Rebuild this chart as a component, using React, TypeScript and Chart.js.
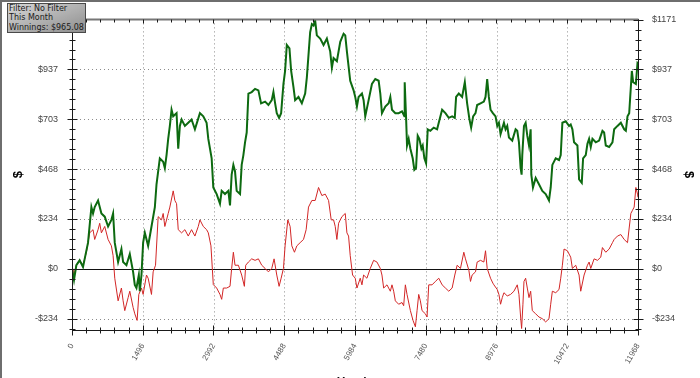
import React, { useEffect, useRef } from "react";
import { Chart, registerables } from "chart.js";

Chart.register(...registerables);

// ---- Data ----
const greenHands = [0,42,92,162,233,268,339,410,445,480,551,622,692,763,833,869,904,975,1045,1081,1151,1222,1292,1328,1363,1413,1434,1469,1504,1540,1610,1681,1752,1787,1857,1928,1963,1999,2034,2069,2105,2140,2211,2246,2281,2317,2387,2458,2528,2599,2705,2776,2846,2882,2953,2988,3059,3129,3165,3235,3306,3341,3376,3412,3447,3482,3553,3588,3624,3659,3694,3730,3800,3871,3941,3998,4083,4153,4224,4259,4295,4330,4379,4422,4471,4506,4542,4598,4634,4683,4718,4789,4860,4930,4966,5036,5072,5107,5142,5177,5248,5319,5389,5460,5495,5531,5601,5672,5743,5778,5813,5883,5954,5989,6025,6060,6131,6166,6201,6272,6342,6413,6484,6519,6554,6625,6696,6731,6766,6837,6907,6978,7028,7035,7063,7084,7119,7155,7204,7239,7275,7310,7345,7388,7416,7451,7487,7522,7578,7649,7720,7755,7826,7896,7967,8038,8094,8122,8179,8249,8306,8355,8405,8440,8482,8532,8567,8638,8709,8744,8779,8814,8850,8899,8956,8992,9027,9062,9133,9168,9203,9239,9309,9380,9415,9451,9486,9507,9521,9557,9592,9627,9663,9698,9712,9747,9804,9874,9945,10016,10086,10122,10157,10228,10298,10334,10369,10439,10510,10545,10581,10616,10687,10722,10779,10807,10863,10899,10934,10969,11005,11075,11146,11216,11252,11287,11358,11428,11464,11534,11605,11676,11711,11746,11782,11838,11866,11923,11958,11968];
const greenWinnings = [0,-52,17,40,9,47,123,290,260,290,321,260,245,199,230,260,123,32,93,32,17,70,-14,-75,-90,-29,-105,-29,123,169,108,199,290,397,519,503,473,534,610,671,747,716,731,564,671,701,671,686,701,655,731,716,686,610,519,382,351,306,366,351,366,298,442,488,458,366,351,488,534,594,640,823,830,845,838,777,785,769,792,830,777,731,709,731,868,929,1051,1035,929,853,792,807,777,823,899,1111,1149,1142,1165,1096,1081,1051,1081,1020,944,990,975,1066,1104,1096,1020,883,838,807,762,807,823,792,716,792,868,891,883,823,731,762,777,807,747,731,731,739,716,876,716,579,610,564,519,465,473,625,610,564,579,519,496,655,648,663,655,686,747,731,709,716,709,807,823,807,876,777,701,663,716,731,769,777,785,807,891,807,747,731,716,671,686,633,686,655,671,617,602,655,648,594,473,442,534,671,686,625,579,655,442,382,427,397,366,351,321,382,488,519,511,534,686,693,671,678,655,594,579,420,404,519,534,587,610,572,610,594,602,648,640,579,572,594,655,671,686,655,648,716,731,929,876,868,967,965.08];

const redHands = [0,21,92,162,233,304,374,445,480,551,586,622,692,763,833,869,904,975,1045,1081,1116,1187,1222,1292,1328,1377,1413,1469,1504,1575,1610,1681,1716,1766,1822,1893,1928,1963,2034,2069,2140,2175,2211,2246,2317,2387,2458,2528,2599,2670,2705,2776,2846,2882,2938,2988,3059,3129,3165,3200,3270,3341,3376,3412,3447,3518,3588,3645,3673,3730,3800,3871,3941,4012,4083,4153,4224,4273,4330,4379,4422,4471,4506,4563,4612,4648,4704,4754,4824,4895,4951,5001,5072,5142,5213,5283,5354,5425,5481,5531,5566,5601,5637,5707,5778,5813,5848,5883,5933,5989,6025,6095,6131,6166,6236,6307,6378,6448,6519,6554,6590,6660,6731,6766,6802,6837,6907,6978,7013,7049,7084,7155,7211,7261,7296,7331,7366,7402,7472,7508,7543,7614,7684,7755,7826,7896,7967,8038,8094,8144,8214,8285,8320,8391,8426,8461,8532,8567,8638,8709,8744,8779,8850,8899,8921,8992,9027,9062,9098,9133,9203,9274,9345,9415,9451,9486,9507,9535,9557,9592,9627,9663,9698,9733,9804,9874,9945,10016,10086,10122,10157,10228,10298,10334,10369,10404,10475,10545,10581,10651,10722,10757,10828,10899,10934,10969,11040,11111,11181,11216,11287,11358,11428,11464,11534,11605,11676,11746,11817,11852,11887,11923,11958,11968];
const redValues = [0,-44,17,40,17,78,169,184,138,184,214,169,199,138,108,62,-44,-150,-90,-150,-196,-135,-105,-181,-211,-242,-120,-90,-120,-29,-44,-120,-14,17,245,230,260,199,260,290,366,321,306,184,169,184,154,184,154,199,230,199,184,169,108,-74,-90,-120,-143,-90,-90,-82,2,78,17,17,-29,-82,17,32,47,40,47,17,2,-14,2,47,-29,-82,-44,2,108,230,199,108,78,108,123,138,184,290,321,321,382,344,351,321,230,230,199,138,214,245,260,169,154,62,-29,-44,-90,-44,-75,-29,-44,2,40,32,2,-29,-90,-75,-105,-75,-105,-150,-166,-158,-173,-75,-120,-196,-242,-272,-196,-120,-150,-196,-211,-226,-75,-75,-59,-44,-75,-90,-105,-90,-29,17,2,78,47,-6,-59,-29,-14,32,40,32,85,2,-44,-67,-75,-97,-120,-166,-135,-112,-127,-120,-105,-75,-120,-226,-280,-166,-59,-44,-90,-135,-105,-196,-211,-226,-234,-249,-234,-166,-105,-112,-97,-44,17,93,85,55,2,17,-29,-105,-29,17,32,2,47,40,55,100,78,93,123,138,154,161,138,123,260,275,290,382,351,336];

const xTickValues = [0, 1496, 2992, 4488, 5984, 7480, 8976, 10472, 11968];
const yTickValues = [-234, 0, 234, 468, 703, 937, 1171];
const legendLines = ["Filter: No Filter", "This Month", "Winnings: $965.08"];

const X_MIN = 0;
const X_MAX = 11968;
const Y_MIN = -287;
const Y_MAX = 1171;

const FONT = "'Liberation Sans', Arial, sans-serif";

const fmtMoney = (v: number) => (v < 0 ? "-$" + Math.abs(v) : "$" + v);

const framePlugin = {
  id: "frameAxes",
  beforeDraw(chart: any) {
    const { ctx, width, height } = chart;
    ctx.save();
    ctx.fillStyle = "#ffffff";
    ctx.fillRect(0, 0, width, height);
    ctx.restore();
  },
  beforeDatasetsDraw(chart: any) {
    const { ctx, chartArea } = chart;
    const { left, right, top, bottom } = chartArea;
    const xs = chart.scales.x;
    const ys = chart.scales.y;
    ctx.save();
    ctx.lineWidth = 1;
    ctx.strokeStyle = "#8c8c8c";
    ctx.setLineDash([1, 3]);
    xTickValues.forEach((v) => {
      if (v <= X_MIN || v >= X_MAX) return;
      const px = Math.round(xs.getPixelForValue(v)) + 0.5;
      ctx.beginPath();
      ctx.moveTo(px, top);
      ctx.lineTo(px, bottom);
      ctx.stroke();
    });
    yTickValues.forEach((v) => {
      if (v === 0 || v <= Y_MIN || v >= Y_MAX) return;
      const py = Math.round(ys.getPixelForValue(v)) + 0.5;
      ctx.beginPath();
      ctx.moveTo(left, py);
      ctx.lineTo(right, py);
      ctx.stroke();
    });
    ctx.setLineDash([]);
    ctx.strokeStyle = "#111";
    const zy = Math.round(ys.getPixelForValue(0)) + 0.5;
    ctx.beginPath();
    ctx.moveTo(left, zy);
    ctx.lineTo(right, zy);
    ctx.stroke();
    ctx.restore();
  },
  afterDatasetsDraw(chart: any) {
    const { ctx, chartArea, width, height } = chart;
    const { left, right, top, bottom } = chartArea;
    const xs = chart.scales.x;
    const ys = chart.scales.y;
    const L = Math.round(left) + 0.5;
    const R = Math.round(right) + 0.5;
    const T = Math.round(top) + 0.5;
    const B = Math.round(bottom) + 0.5;
    ctx.save();
    // outer frame (top / left)
    ctx.fillStyle = "#6e6e6e";
    ctx.fillRect(0, 0, width, 2);
    ctx.fillRect(0, 0, 2, height);

    // top border
    ctx.strokeStyle = "#777";
    ctx.lineWidth = 2;
    ctx.beginPath();
    ctx.moveTo(L, T);
    ctx.lineTo(R, T);
    ctx.stroke();
    ctx.lineWidth = 1;
    ctx.strokeStyle = "#1a1a1a";
    ctx.beginPath();
    ctx.moveTo(L, T);
    ctx.lineTo(L, B);
    ctx.lineTo(R, B);
    ctx.lineTo(R, T);
    ctx.stroke();

    // x ticks
    const xStep = (xTickValues[1] - xTickValues[0]) / 5;
    for (let v = X_MIN; v <= X_MAX + 0.5; v += xStep) {
      const isMajor = xTickValues.some((t) => Math.abs(t - v) < 1);
      const px = Math.round(xs.getPixelForValue(v)) + 0.5;
      const len = isMajor ? 5 : 3;
      ctx.beginPath();
      ctx.moveTo(px, B - len);
      ctx.lineTo(px, B + len);
      ctx.moveTo(px, T);
      ctx.lineTo(px, T + (isMajor ? 4 : 3));
      ctx.stroke();
    }
    // y ticks
    const yStep = (yTickValues[2] - yTickValues[1]) / 5;
    for (let k = -10; k <= 40; k++) {
      const v = k * yStep;
      if (v < Y_MIN || v > Y_MAX + 1) continue;
      const isMajor = k % 5 === 0;
      const py = Math.round(ys.getPixelForValue(v)) + 0.5;
      const len = isMajor ? 5 : 3;
      ctx.beginPath();
      ctx.moveTo(L - len, py);
      ctx.lineTo(L + len, py);
      ctx.moveTo(R - len, py);
      ctx.lineTo(R + len, py);
      ctx.stroke();
    }
    ctx.restore();
  },
};

export default function App() {
  const canvasRef = useRef<HTMLCanvasElement | null>(null);

  useEffect(() => {
    document.body.style.margin = "0";
    const canvas = canvasRef.current;
    if (!canvas) return;

    const greenData = greenHands.map((h, i) => ({ x: h, y: greenWinnings[i] }));
    const redData = redHands.map((h, i) => ({ x: h, y: redValues[i] }));

    const yAxisBase = (side: "left" | "right") => ({
      type: "linear" as const,
      position: side,
      min: Y_MIN,
      max: Y_MAX,
      afterBuildTicks: (s: any) => {
        s.ticks = yTickValues.map((v) => ({ value: v }));
      },
      afterFit: (s: any) => {
        s.width = side === "left" ? 72 : 62;
      },
      grid: { display: false, drawTicks: false },
      border: { display: false },
      ticks: {
        padding: 14,
        color: "#444",
        font: { family: FONT, size: 9 },
        callback: (v: any) => fmtMoney(Number(v)),
      },
      title: {
        display: true,
        text: "$",
        color: "#000",
        font: { family: FONT, size: 13, weight: "bold" as const },
        padding: side === "left" ? { top: 11, bottom: 0 } : { top: 4, bottom: 0 },
      },
    });

    const chart = new Chart(canvas, {
      type: "line",
      data: {
        datasets: [
          {
            label: "Winnings",
            data: greenData,
            borderColor: "#0d6a10",
            borderWidth: 2,
            pointRadius: 0,
            tension: 0,
            fill: false,
          },
          {
            label: "Showdown",
            data: redData,
            borderColor: "#d22626",
            borderWidth: 1,
            pointRadius: 0,
            tension: 0,
            fill: false,
          },
        ],
      },
      options: {
        animation: false,
        responsive: false,
        maintainAspectRatio: false,
        devicePixelRatio: 1,
        layout: { padding: { top: 12, left: 0, right: 0, bottom: 0 } },
        plugins: {
          legend: { display: false },
          tooltip: { enabled: false },
        },
        scales: {
          x: {
            type: "linear",
            position: "bottom",
            min: X_MIN,
            max: X_MAX,
            afterBuildTicks: (s: any) => {
              s.ticks = xTickValues.map((v) => ({ value: v }));
            },
            afterFit: (s: any) => {
              s.height = 48;
            },
            grid: { display: false, drawTicks: false },
            border: { display: false },
            ticks: {
              autoSkip: false,
              minRotation: 60,
              maxRotation: 60,
              padding: 12,
              color: "#555",
              font: { family: FONT, size: 8 },
              callback: (v: any) => String(v),
            },
            title: {
              display: true,
              text: "Hands",
              color: "#111",
              font: { family: FONT, size: 12, weight: "bold" },
              padding: { top: 0, bottom: -12 },
            },
          },
          y: yAxisBase("left"),
          y2: yAxisBase("right"),
        },
      },
      plugins: [framePlugin],
    } as any);

    return () => {
      chart.destroy();
    };
  }, []);

  return (
    <div style={{ position: "relative", width: 700, height: 378, overflow: "hidden", background: "#fff" }}>
      <canvas ref={canvasRef} width={700} height={378} style={{ display: "block" }} />
      <div
        style={{
          position: "absolute",
          left: 7,
          top: 3,
          width: 79,
          height: 30,
          border: "1px solid #4a4a4a",
          background: "linear-gradient(to bottom right, #d6d6d6, #8e8e8e)",
          fontFamily: "'DejaVu Sans', sans-serif",
          fontSize: 8,
          lineHeight: "9.4px",
          color: "#1a1a1a",
          padding: "0 0 0 1px",
          boxSizing: "border-box",
          whiteSpace: "nowrap",
          overflow: "hidden",
        }}
      >
        {legendLines.map((t) => (
          <div key={t}>{t}</div>
        ))}
      </div>
    </div>
  );
}
